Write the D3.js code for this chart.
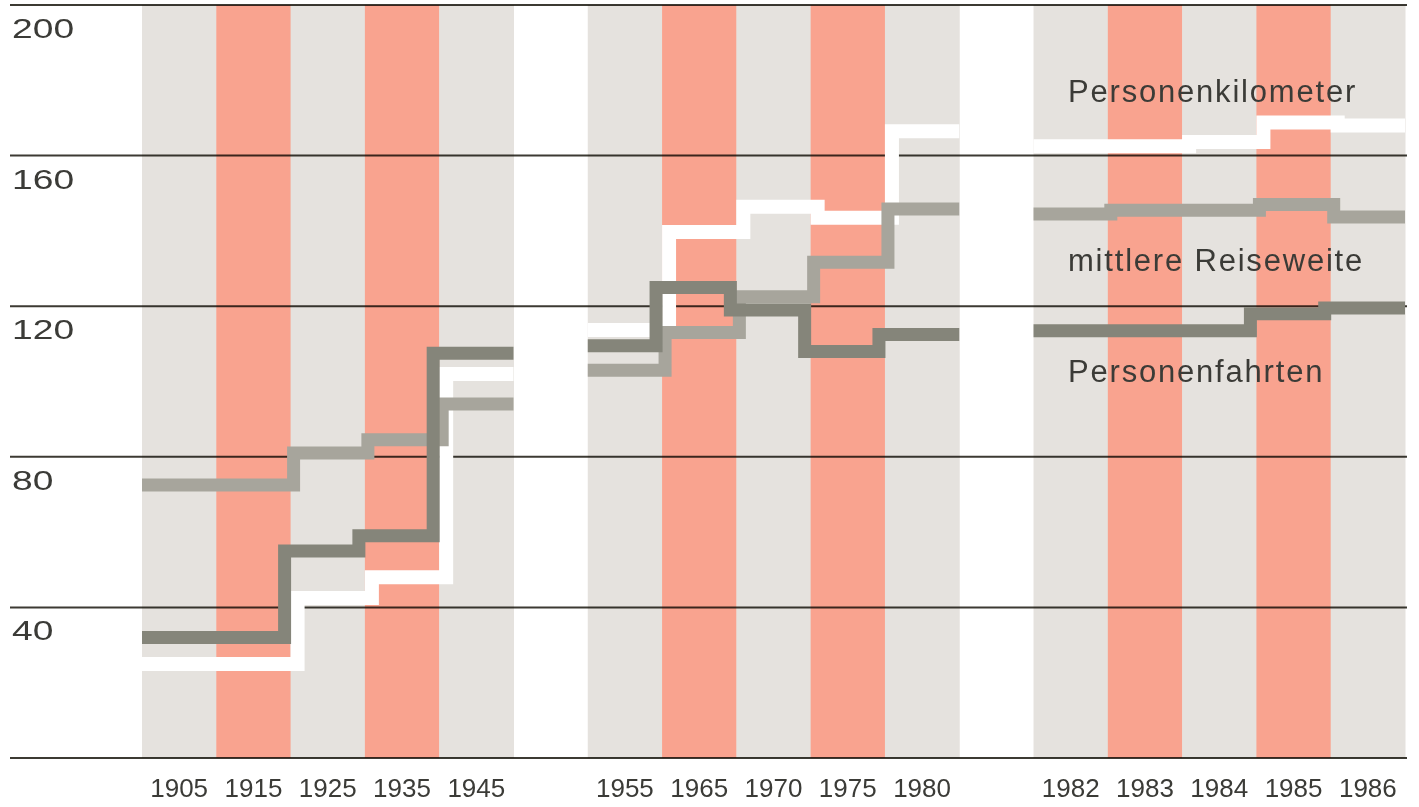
<!DOCTYPE html>
<html>
<head>
<meta charset="utf-8">
<script src="https://cdn.jsdelivr.net/npm/d3@7"></script>
<style>
  html, body { margin: 0; padding: 0; background: #ffffff; }
  svg { display: block; }
  text { font-family: "Liberation Sans", Arial, Helvetica, sans-serif; fill: #3b3b37; }
</style>
</head>
<body>
<svg id="chart" width="1419" height="807"></svg>
<script>
// ---- data ----
const group1 = ["1905", "1915", "1925", "1935", "1945"];
const group2 = ["1955", "1965", "1970", "1975", "1980"];
const group3 = ["1982", "1983", "1984", "1985", "1986"];
const years = group1.concat(group2, group3);

const yTicks = [0, 40, 80, 120, 160, 200];
const yTickLabels = ["", "40", "80", "120", "160", "200"];

// Personenkilometer (white line)
const personenkilometer = [25, 25, 42.5, 48, 102, 113.7, 139.7, 146.4, 143.5, 166.5, 162.5, 162.5, 163.6, 168.8, 168];
// mittlere Reiseweite (light grey line)
const reiseweite = [72.5, 72.5, 81, 84.5, 94, 103, 113, 122.5, 131.7, 145.8, 144.5, 145.5, 145.5, 147, 143.7];
// Personenfahrten (dark grey line)
const personenfahrten = [32, 32, 55, 59, 107.5, 109.5, 125, 119, 108, 112.5, 113.5, 113.5, 113.5, 118, 119.5];

const seriesNames = ["Personenkilometer", "mittlere Reiseweite", "Personenfahrten"];

// ---- layout ----
const svg = d3.select("#chart");
const slots = group1.concat(["gapA"], group2, ["gapB"], group3);
const x = d3.scaleBand().domain(slots).range([142, 1405]).padding(0);
const y = d3.scaleLinear().domain([0, 200]).range([758, 5]);
const groups = [group1, group2, group3];

// columns
const colData = [];
groups.forEach(g => g.forEach((yr, i) => colData.push({ yr, salmon: i % 2 === 1 })));
svg.append("g").selectAll("rect").data(colData).join("rect")
  .attr("x", d => x(d.yr))
  .attr("width", x.bandwidth() + 0.5)
  .attr("y", y(200))
  .attr("height", y(0) - y(200))
  .attr("fill", d => d.salmon ? "#f9a38f" : "#e5e2de");

// gridlines
svg.append("g").selectAll("line").data(yTicks).join("line")
  .attr("x1", 10).attr("x2", 1407)
  .attr("y1", d => y(d)).attr("y2", d => y(d))
  .attr("stroke", "#3c3a33").attr("stroke-width", 2)
  .style("mix-blend-mode", "multiply");

// y tick labels (wide digits)
svg.append("g").selectAll("text").data(yTicks.filter((d, i) => yTickLabels[i] !== "")).join("text")
  .attr("transform", d => `translate(12,${y(d) + 33}) scale(1.33,1)`)
  .attr("font-size", 28)
  .text(d => yTickLabels[yTicks.indexOf(d)]);

// x labels
svg.append("g").selectAll("text").data(years).join("text")
  .attr("x", d => x(d) + x.bandwidth() / 2)
  .attr("y", 797)
  .attr("text-anchor", "middle")
  .attr("font-size", 26)
  .text(d => d);

// step lines
const line = d3.line().x(d => d[0]).y(d => d[1]).curve(d3.curveLinear);
function stepPoints(values, offset) {
  const paths = [];
  let idx = 0;
  groups.forEach(g => {
    const pts = [];
    g.forEach((yr, i) => {
      const v = values[idx++];
      const x0 = x(yr) + (i === 0 ? 0 : offset);
      const x1 = x(yr) + x.bandwidth() + (i === g.length - 1 ? 0 : offset);
      pts.push([x0, y(v)], [x1, y(v)]);
    });
    paths.push(pts);
  });
  return paths;
}
const seriesStyle = [
  { values: personenkilometer, color: "#ffffff", width: 14, offset: 7 },
  { values: reiseweite, color: "#a7a59c", width: 13, offset: 3 },
  { values: personenfahrten, color: "#85857a", width: 13, offset: -6 }
];
seriesStyle.forEach(s => {
  svg.append("g").selectAll("path").data(stepPoints(s.values, s.offset)).join("path")
    .attr("d", line)
    .attr("fill", "none")
    .attr("stroke", s.color)
    .attr("stroke-width", s.width)
    .attr("stroke-linejoin", "miter")
    .attr("stroke-linecap", "butt");
});

// series labels
const labelY = [102, 271, 382];
svg.append("g").selectAll("text").data(seriesNames).join("text")
  .attr("x", 1068)
  .attr("y", (d, i) => labelY[i])
  .attr("font-size", 31)
  .attr("letter-spacing", 1.8)
  .text(d => d);
</script>
</body>
</html>
